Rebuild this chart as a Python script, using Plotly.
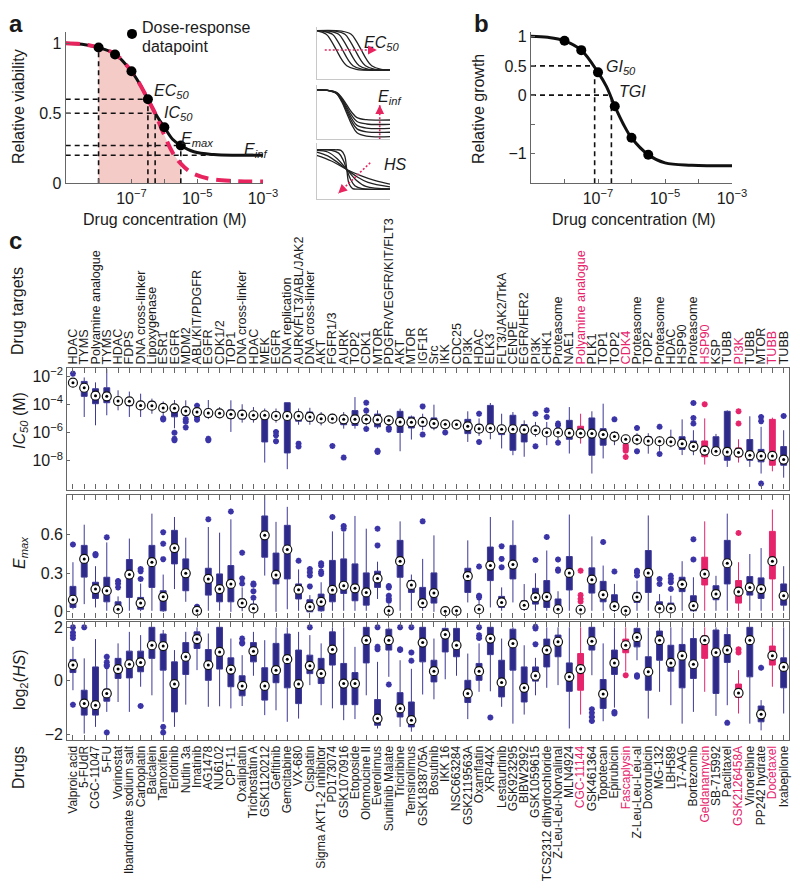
import plotly.graph_objects as go

# The page body has an 8px margin: the figure is sized so that it fills the 800x892 window exactly,
# and reference pixel positions are converted to paper fractions accordingly.
OFF = 8
W, H = 800 - 2 * OFF, 892 - 2 * OFF
def fx(p): return (p - OFF) / W
def fy(p): return 1 - (p - OFF) / H

FONT = "Liberation Sans, Arial, Helvetica, sans-serif"
TXT = "#1a1a1a"
AXC = "#666666"
BLUE = "#2e2a8a"
BLUE_LINE = "#3d3996"
PINK = "#e5246c"
RED = "#e8245f"
FILL = "rgba(240,175,170,0.65)"

# ---------------- Panel a (log10 concentration, relative viability) ----------------
a_points_logx = [-8.0, -7.5, -7.0, -6.5, -6.0, -5.5]
a_points_y = [0.97, 0.92, 0.80, 0.60, 0.40, 0.27]
a_curve_logx = [-9.0, -8.5, -8.0, -7.5, -7.0, -6.75, -6.5, -6.25, -6.0, -5.75, -5.5, -5.1, -4.5, -3.8, -3.0]
a_curve_y = [1.0, 0.993, 0.97, 0.924, 0.80, 0.71, 0.60, 0.49, 0.40, 0.315, 0.27, 0.225, 0.205, 0.20, 0.20]
a_ic_logx = [-9.0, -8.5, -8.0, -7.5, -7.0, -6.75, -6.5, -6.28, -6.05, -5.75, -5.5, -5.2, -4.7, -3.9, -3.0]
a_ic_y = [1.0, 0.993, 0.97, 0.924, 0.80, 0.71, 0.60, 0.50, 0.37, 0.22, 0.14, 0.08, 0.036, 0.017, 0.012]
a_ec50 = (-6.5, 0.60)
a_ic50 = (-6.28, 0.50)
a_emax = (-5.5, 0.27)
a_einf = 0.20
a_einf_end = -4.6
a_first = (-8.0, 0.97)
a_xmin, a_xmax = -9.0, -3.0

# ---------------- Insets (schematic curves, normalised units) ----------------
inset_ec50_x = [
    [0, 0.13, 0.20, 0.27, 0.34, 0.41, 0.54, 1],
    [0, 0.085, 0.215, 0.285, 0.355, 0.425, 0.495, 0.625, 1],
    [0, 0.17, 0.30, 0.37, 0.44, 0.51, 0.58, 0.71, 1],
    [0, 0.255, 0.385, 0.455, 0.525, 0.595, 0.665, 0.795, 1],
    [0, 0.34, 0.47, 0.54, 0.61, 0.68, 0.75, 0.88, 1],
]
inset_ec50_y = [
    [0.93, 0.86, 0.73, 0.555, 0.38, 0.26, 0.19, 0.18],
    [0.93, 0.92, 0.86, 0.73, 0.555, 0.38, 0.26, 0.19, 0.18],
    [0.93, 0.92, 0.86, 0.73, 0.555, 0.38, 0.26, 0.19, 0.18],
    [0.93, 0.92, 0.86, 0.73, 0.555, 0.38, 0.26, 0.19, 0.18],
    [0.93, 0.92, 0.86, 0.73, 0.555, 0.38, 0.26, 0.19, 0.18],
]
inset_einf_x = [0, 0.14, 0.27, 0.34, 0.41, 0.48, 0.55, 0.68, 1]
inset_einf_y = [
    [0.91, 0.904, 0.866, 0.771, 0.633, 0.494, 0.399, 0.361, 0.355],
    [0.91, 0.904, 0.859, 0.752, 0.593, 0.434, 0.327, 0.282, 0.276],
    [0.91, 0.903, 0.853, 0.733, 0.555, 0.378, 0.257, 0.207, 0.200],
    [0.91, 0.902, 0.848, 0.715, 0.520, 0.325, 0.192, 0.138, 0.130],
    [0.91, 0.901, 0.841, 0.695, 0.480, 0.265, 0.119, 0.059, 0.050],
]
inset_hs_x = [
    [0, 0.25, 0.33, 0.38, 0.41, 0.44, 0.49, 0.57, 1],
    [0, 0.20, 0.30, 0.36, 0.41, 0.46, 0.52, 0.62, 1],
    [0, 0.15, 0.28, 0.41, 0.54, 0.67, 1],
    [0, 0.15, 0.28, 0.41, 0.55, 0.70, 1],
    [0, 0.20, 0.41, 0.60, 0.80, 1],
]
inset_hs_y = [
    [0.88, 0.88, 0.87, 0.78, 0.53, 0.28, 0.19, 0.18, 0.18],
    [0.88, 0.87, 0.82, 0.70, 0.53, 0.36, 0.24, 0.19, 0.18],
    [0.87, 0.84, 0.72, 0.53, 0.34, 0.23, 0.185],
    [0.84, 0.77, 0.66, 0.53, 0.40, 0.30, 0.22],
    [0.78, 0.68, 0.53, 0.42, 0.33, 0.27],
]
inset1_arrow_x = [0.11, 0.82]; inset1_arrow_y = [0.56, 0.56]
inset2_arrow_x = [0.86, 0.86]; inset2_arrow_y = [0.0, 0.63]
inset3_arrow_x = [0.73, 0.295]; inset3_arrow_y = [0.65, 0.106]

# ---------------- Panel b (log10 concentration, relative growth) ----------------
b_points_logx = [-8.0, -7.5, -7.0, -6.5, -6.0, -5.5]
b_points_y = [0.93, 0.77, 0.39, -0.19, -0.73, -1.02]
b_curve_logx = [-9.0, -8.5, -8.0, -7.5, -7.0, -6.75, -6.5, -6.25, -6.0, -5.5, -5.0, -4.2, -3.0]
b_curve_y = [1.01, 0.99, 0.93, 0.77, 0.39, 0.15, -0.19, -0.49, -0.73, -1.02, -1.16, -1.20, -1.21]
b_gi50 = (-7.1, 0.5)
b_tgi = (-6.6, 0.0)
b_ymin, b_ymax = -1.51, 1.086

# ---------------- Panel c ----------------
drugs = ["Valproic acid", "5-FUdR", "CGC-11047", "5-FU", "Vorinostat", "Ibandronate sodium salt",
         "Carboplatin", "Baicalein", "Tamoxifen", "Erlotinib", "Nutlin 3a", "Imatinib", "AG1478",
         "NU6102", "CPT-11", "Oxaliplatin", "Trichostatin A", "GSK1120212", "Gefitinib", "Gemcitabine",
         "VX-680", "Cisplatin", "Sigma AKT1-2 inhibitor", "PD173074", "GSK1070916", "Etoposide",
         "Olomoucine II", "Everolimus", "Sunitinib Malate", "Triciribine", "Temsirolimus", "GSK1838705A",
         "Bosutinib", "IKK 16", "NSC663284", "GSK2119563A", "Oxamflatin", "XRP44X", "Lestaurtinib",
         "GSK923295", "BIBW2992", "GSK1059615", "TCS2312 dihydrochloride", "Z-Leu-Leu-Norvalinal",
         "MLN4924", "CGC-11144", "GSK461364", "Topotecan", "Epirubicin", "Fascaplysin",
         "Z-Leu-Leu-Leu-al", "Doxorubicin", "MG-132", "LBH589", "17-AAG", "Bortezomib", "Geldanamycin",
         "SB-715992", "Paclitaxel", "GSK2126458A", "Vinorelbine", "PP242 hydrate", "Docetaxel", "Ixabepilone"]
targets = ["HDAC", "TYMS", "Polyamine analogue", "TYMS", "HDAC", "FDPS", "DNA cross-linker", "Lipoxygenase",
           "ESR1", "EGFR", "MDM2", "ABL/KIT/PDGFR", "EGFR", "CDK1/2", "TOP1", "DNA cross-linker", "HDAC",
           "MEK", "EGFR", "DNA replication", "AURK/FLT3/ABL/JAK2", "DNA cross-linker", "AKT", "FGFR1/3",
           "AURK", "TOP2", "CDK1", "MTOR", "PDGFR/VEGFR/KIT/FLT3", "AKT", "MTOR", "IGF1R", "Src", "IKK",
           "CDC25", "PI3K", "HDAC", "ELK3", "FLT3/JAK2/TrkA", "CENPE", "EGFR/HER2", "PI3K", "CHK1",
           "Proteasome", "NAE1", "Polyamine analogue", "PLK1", "TOP1", "TOP2", "CDK4", "Proteasome", "TOP2",
           "Proteasome", "HDAC", "HSP90", "Proteasome", "HSP90", "KSP", "TUBB", "PI3K", "TUBB", "MTOR",
           "TUBB", "TUBB"]
highlighted = ["CGC-11144", "Fascaplysin", "Geldanamycin", "GSK2126458A", "Docetaxel"]

# IC50 stored as log10(M)
ic50_median = [-2.47,-2.83,-3.39,-3.44,-3.77,-3.79,-4.08,-4.10,-4.26,-4.29, -4.48,-4.55,-4.62,-4.64,-4.71,-4.74,-4.78,-4.78,-4.83,-4.83,
               -4.83,-4.90,-5.02,-5.02,-5.07,-5.07,-5.07,-5.09,-5.14,-5.25, -5.28,-5.25,-5.37,-5.42,-5.44,-5.56,-5.73,-5.70,-5.77,-5.77,
               -5.80,-5.84,-6.00,-6.00,-6.03,-6.06,-6.08,-6.15,-6.29,-6.48, -6.50,-6.60,-6.62,-6.65,-6.79,-7.00,-7.28,-7.33,-7.38,-7.42,
               -7.61,-7.66,-7.66,-7.92]
ic50_q1 = [-2.62,-3.44,-3.96,-3.89,-3.90,-4.10,-4.30,-4.30,-4.45,-4.89, -4.78,-4.65,-4.90,-4.85,-5.00,-5.05,-5.05,-6.67,-5.05,-7.45,
           -5.20,-5.20,-5.25,-5.25,-5.45,-5.50,-5.35,-5.60,-5.35,-6.00, -5.68,-5.55,-5.68,-5.55,-5.55,-6.08,-6.00,-5.96,-6.15,-7.26,
           -6.67,-6.10,-6.24,-6.20,-6.48,-6.31,-7.61,-6.90,-6.48,-6.60, -6.69,-6.80,-6.79,-6.79,-7.20,-7.25,-7.72,-7.50,-7.97,-7.72,
           -7.97,-8.08,-8.32,-8.32]
ic50_q3 = [-2.35,-2.38,-2.90,-2.83,-3.65,-3.55,-3.85,-3.80,-4.05,-4.10, -4.20,-4.42,-4.35,-4.45,-4.40,-4.45,-4.55,-4.55,-4.55,-3.89,
           -4.55,-4.55,-4.80,-4.80,-4.80,-4.45,-4.80,-4.70,-4.95,-4.50, -4.90,-4.97,-4.97,-5.30,-5.35,-5.07,-5.44,-4.08,-5.50,-4.78,
           -5.44,-5.56,-5.73,-5.73,-5.14,-5.56,-4.97,-5.73,-6.00,-6.35, -6.24,-6.30,-6.45,-6.48,-6.30,-6.60,-6.60,-6.30,-4.50,-7.10,
           -6.50,-7.20,-5.07,-7.00]
ic50_low = [-2.80,-4.90,-5.49,-4.78,-4.43,-4.90,-4.90,-4.67,-4.90,-5.70, -4.95,-4.80,-5.05,-4.95,-5.96,-5.30,-5.30,-8.13,-5.30,-8.60,
            -5.45,-5.45,-5.50,-5.35,-5.73,-5.73,-5.50,-5.73,-5.50,-7.33, -6.50,-5.84,-5.84,-5.60,-5.60,-6.67,-6.24,-6.48,-7.13,-7.61,
            -7.72,-6.30,-6.90,-6.55,-7.49,-6.79,-8.91,-7.84,-6.90,-6.80, -6.90,-7.50,-7.30,-7.05,-7.60,-7.61,-8.27,-7.60,-8.44,-8.13,
            -8.44,-8.91,-8.75,-9.20]
ic50_high = [-2.20,-2.10,-2.45,-1.50,-3.01,-3.10,-3.25,-3.60,-3.80,-3.70, -3.72,-4.30,-3.70,-4.20,-3.72,-4.00,-4.20,-4.30,-4.30,-3.89,
             -4.30,-4.25,-4.55,-4.67,-4.55,-3.49,-4.55,-4.43,-4.90,-4.31, -4.80,-4.67,-4.03,-5.20,-5.25,-4.50,-5.00,-3.91,-4.67,-4.55,
             -5.14,-5.25,-5.25,-5.60,-4.20,-4.67,-4.50,-3.96,-5.90,-6.20, -6.05,-6.05,-6.25,-5.80,-5.07,-5.84,-5.00,-6.10,-4.43,-6.48,
             -4.85,-5.60,-4.95,-5.84]
ic50_outliers = [[-1.83],[],[],[],[],[],[],[],[-5.00,-5.08],[-6.02,-6.45,-6.55],
                 [-5.05,-5.24,-5.64],[-4.10,-4.95,-5.10],[-6.45,-6.55],[],[],[],[],[],[-5.96,-6.20,-6.62],[],
                 [-6.79,-7.00],[],[],[-6.95],[-7.78],[],[-3.89,-4.45,-5.75],[-7.30,-7.38],[-5.68,-5.80],[],
                 [],[-4.15,-6.15],[],[-6.00],[],[],[-4.67,-6.67],[],[],[],
                 [],[-4.67,-6.98],[-4.43,-4.90],[-5.37,-5.50,-6.72],[],[],[],[],[-5.07],[-6.90,-7.00,-7.10,-7.20,-7.30,-7.73],
                 [-5.68,-7.33],[],[-5.60,-7.52],[],[],[-3.91,-4.97,-5.37],[-4.00],[],[],[-4.50,-5.37],
                 [],[-4.90,-5.20,-9.62],[],[-4.83]]
ic50_tickvals = [-2, -4, -6, -8]
ic50_ticktext = ["10<sup>−2</sup>", "10<sup>−4</sup>", "10<sup>−6</sup>", "10<sup>−8</sup>"]

emax_median = [0.094,0.412,0.177,0.164,0.020,0.290,0.068,0.386,0.117,0.496, 0.300,0.008,0.256,0.177,0.217,0.068,0.026,0.595,0.287,0.485,
               0.172,0.040,0.078,0.170,0.203,0.183,0.151,0.260,0.008,0.394, 0.209,0.068,0.146,0.005,0.008,0.277,0.020,0.360,0.073,0.368,
               0.052,0.112,0.117,0.020,0.303,0.016,0.250,0.133,0.044,0.008, 0.115,0.303,0.026,0.026,0.214,0.047,0.295,0.138,0.378,0.157,
               0.190,0.177,0.394,0.125]
emax_q1 = [0.034,0.270,0.104,0.078,0.000,0.112,0.020,0.190,0.008,0.373, 0.164,0.000,0.130,0.078,0.078,0.034,0.000,0.425,0.217,0.256,
           0.100,0.000,0.008,0.078,0.143,0.086,0.052,0.190,0.000,0.269, 0.151,0.034,0.068,0.000,0.000,0.151,0.000,0.243,0.034,0.256,
           0.020,0.060,0.034,0.000,0.170,0.000,0.146,0.078,0.016,0.000, 0.073,0.151,0.000,0.000,0.157,0.008,0.209,0.094,0.217,0.068,
           0.130,0.104,0.256,0.052]
emax_q3 = [0.198,0.517,0.230,0.269,0.078,0.407,0.112,0.517,0.164,0.634, 0.412,0.020,0.339,0.295,0.360,0.100,0.060,0.746,0.457,0.673,
           0.217,0.094,0.138,0.400,0.412,0.373,0.303,0.316,0.030,0.556, 0.243,0.190,0.303,0.026,0.026,0.339,0.040,0.504,0.120,0.517,
           0.086,0.183,0.243,0.100,0.430,0.026,0.342,0.237,0.133,0.026, 0.151,0.477,0.078,0.068,0.269,0.125,0.425,0.203,0.556,0.243,
           0.274,0.264,0.626,0.217]
emax_low = [0.020,0.060,0.034,0.008,0.000,0.008,0.005,0.008,0.000,0.177, 0.078,0.000,0.008,0.008,0.000,0.005,0.000,0.282,0.000,0.020,
            0.008,0.000,0.000,0.008,0.008,0.008,0.008,0.100,0.000,0.008, 0.008,0.008,0.000,0.000,0.000,0.073,0.000,0.034,0.008,0.073,
            0.008,0.008,0.008,0.000,0.008,0.000,0.008,0.008,0.000,0.000, 0.008,0.008,0.000,0.000,0.008,0.000,0.008,0.008,0.008,0.008,
            0.008,0.008,0.008,0.008]
emax_high = [0.386,0.678,0.355,0.540,0.120,0.570,0.220,0.764,0.290,0.738, 0.577,0.030,0.660,0.616,0.720,0.190,0.090,0.920,0.700,0.817,
             0.330,0.130,0.230,0.626,0.620,0.746,0.647,0.390,0.060,0.704, 0.290,0.412,0.595,0.034,0.034,0.556,0.100,0.738,0.190,0.712,
             0.216,0.300,0.477,0.160,0.757,0.034,0.587,0.360,0.217,0.034, 0.243,0.750,0.138,0.125,0.394,0.269,0.704,0.280,0.764,0.386,
             0.450,0.496,0.796,0.355]
emax_outliers = [[0.524],[],[0.44,0.45],[0.58],[0.19,0.22,0.24],[],[0.256,0.316,0.334],[],[0.41,0.53,0.62],[],
                 [],[0.035,0.04],[0.72],[],[0.78],[0.22,0.26,0.46],[0.11,0.16,0.21,0.22],[],[],[],
                 [0.397],[0.198,0.282,0.308,0.334],[0.295,0.313,0.36,0.378],[0.738],[0.647,0.668],[],[],[0.517,0.647],[0.086,0.10,0.125,0.19,0.20],[],
                 [],[0.704],[],[],[],[],[0.112,0.125,0.352],[],[0.347,0.412,0.511],[],
                 [],[0.404],[0.582],[0.32,0.329,0.407],[],[0.08,0.10,0.13,0.32],[],[0.543],[0.313],[],
                 [0.282,0.308,0.32],[],[0.217,0.256],[0.177,0.23,0.256,0.28],[],[0.407,0.564],[],[],[],[0.613],
                 [],[],[],[]]
emax_tickvals = [0, 0.3, 0.6]
emax_ticktext = ["0", "0.3", "0.6"]

hs_median = [0.59,-0.85,-0.91,-0.47,0.44,0.62,0.69,1.33,1.30,-0.12, 0.90,1.56,0.59,1.08,0.42,-0.19,1.11,-0.19,0.40,0.81,
             -0.12,0.56,0.27,1.17,-0.10,-0.10,1.52,-1.41,1.52,-1.03, -1.47,1.43,0.36,1.73,1.33,-0.47,0.36,1.58,-0.06,1.40,
             -0.26,0.19,1.15,1.46,0.15,0.44,1.48,-0.49,0.67,1.33, 1.63,0.34,1.52,0.67,0.94,0.62,1.52,1.06,1.15,-0.45,
             1.52,-1.25,0.94,0.52]
hs_q1 = [0.31,-1.28,-1.28,-0.76,0.09,0.11,0.34,0.84,0.40,-1.16, 0.24,1.21,0.02,0.44,-0.22,-0.56,0.71,-0.72,-0.07,-0.26,
         -0.85,0.27,-0.10,0.59,-0.89,-0.89,0.67,-1.66,1.15,-1.35, -1.72,0.71,-0.04,1.08,0.90,-0.81,0.02,0.98,-0.60,0.40,
         -0.79,-0.01,0.52,0.90,-0.39,-0.35,1.15,-1.03,0.24,1.05, 1.27,-0.35,0.77,0.36,-0.26,0.09,0.84,-0.47,0.69,-0.62,
         0.15,-1.53,0.59,-0.26]
hs_q3 = [0.80,-0.35,0.52,-0.31,0.84,1.11,1.11,2.00,1.75,0.71, 1.43,1.83,1.17,2.00,0.86,0.19,1.43,0.49,1.40,1.75,
         1.15,0.96,0.84,1.83,0.65,0.31,2.00,-0.70,1.93,-0.44, -0.79,2.00,0.77,1.96,1.96,0.02,0.65,2.00,0.77,1.93,
         0.52,0.52,1.56,1.71,0.67,1.02,2.00,0.05,1.15,1.56, 1.96,0.90,1.86,1.33,1.36,1.58,1.68,1.90,1.73,-0.12,
         2.00,-0.94,1.30,0.86]
hs_low = [-0.35,-1.97,-1.72,-1.16,-0.79,-1.16,-0.22,-0.54,-1.53,-1.72, -0.89,0.40,-0.97,-0.95,-1.03,-0.94,0.19,-1.28,-1.10,-1.53,
          -1.41,-0.16,-0.91,-1.03,-1.47,-1.43,-0.54,-1.78,0.15,-1.72, -1.90,-0.51,-0.69,0.06,0.19,-1.43,-0.41,-0.39,-0.97,-1.60,
          -1.26,-0.54,-0.26,-0.16,-1.78,-1.26,0.21,-1.51,-1.00,0.35, 0.77,-1.41,-0.41,-0.91,-1.60,-1.16,-0.41,-1.31,-0.91,-1.22,
          -1.60,-1.85,-0.22,-1.22]
hs_high = [1.27,0.84,1.56,0.46,1.40,1.83,1.71,2.00,1.90,1.15, 1.83,2.00,1.77,2.00,1.58,0.96,1.83,1.52,2.00,2.00,
           1.83,1.71,1.40,2.00,2.00,1.27,2.00,0.71,2.00,0.77, 0.45,2.00,1.58,2.00,2.00,1.02,1.40,2.00,1.58,2.00,
           1.33,0.86,2.00,2.00,2.00,2.00,2.00,1.40,2.00,2.00, 2.00,2.00,2.00,2.00,2.00,2.00,2.00,2.00,2.00,0.40,
           2.00,-0.72,2.00,2.00]
hs_outliers = [[2.0,1.8,1.7,1.6,-0.89],[2.0],[],[0.9,0.7,0.6,0.55,-1.93],[],[],[-0.94],[],[-1.72,-1.93],[],
               [],[],[],[],[],[1.40,1.43,1.58],[],[],[],[],
               [],[2.0],[],[],[],[],[],[1.18,1.27,2.0],[-0.14],[1.15,1.18,2.0],
               [0.75,1.06,2.0],[],[],[],[],[],[1.6,1.7,2.0],[-1.37],[],[],
               [],[1.37,1.96,2.02],[],[],[],[],[-1.06,-1.2,-1.35,-1.5],[],[-1.16,-1.22],[0.21],
               [0.15,0.21],[],[],[],[],[],[],[],[-1.57],[1.06,1.18],
               [],[0.49],[],[]]
hs_tickvals = [-2, 0, 2]
hs_ticktext = ["−2", "0", "2"]

N = len(drugs)
for arr in [targets, ic50_median, ic50_q1, ic50_q3, ic50_low, ic50_high, ic50_outliers,
            emax_median, emax_q1, emax_q3, emax_low, emax_high, emax_outliers,
            hs_median, hs_q1, hs_q3, hs_low, hs_high, hs_outliers]:
    assert len(arr) == N, len(arr)

fig = go.Figure()

# ---------- Panel a ----------
fill_pts = [(x, y) for x, y in zip(a_ic_logx, a_ic_y) if a_first[0] <= x <= a_emax[0]]
fig.add_trace(go.Scatter(x=[p[0] for p in fill_pts], y=[p[1] for p in fill_pts], mode="lines",
                         line=dict(width=0, shape="spline"), fill="tozeroy", fillcolor=FILL,
                         xaxis="x", yaxis="y", showlegend=False, hoverinfo="skip"))
dx, dy = [], []
for (xx, yy) in [a_ec50, a_ic50, a_emax]:
    dx += [a_xmin, xx, None, xx, xx, None]
    dy += [yy, yy, None, 0, yy, None]
dx += [a_xmin, a_einf_end, None, a_first[0], a_first[0]]
dy += [a_einf, a_einf, None, 0, a_first[1]]
fig.add_trace(go.Scatter(x=dx, y=dy, mode="lines", line=dict(color="#111", width=1.6, dash="5px,4px"),
                         xaxis="x", yaxis="y", showlegend=False, hoverinfo="skip"))
fig.add_trace(go.Scatter(x=a_curve_logx, y=a_curve_y, mode="lines", line=dict(color="#111", width=3, shape="spline"),
                         xaxis="x", yaxis="y", showlegend=False, hoverinfo="skip"))
fig.add_trace(go.Scatter(x=a_ic_logx, y=a_ic_y, mode="lines",
                         line=dict(color=RED, width=4, dash="14px,8px", shape="spline"),
                         xaxis="x", yaxis="y", showlegend=False, hoverinfo="skip"))
fig.add_trace(go.Scatter(x=a_points_logx, y=a_points_y, mode="markers", marker=dict(color="#000", size=10),
                         xaxis="x", yaxis="y", name=" ", showlegend=True, hoverinfo="skip"))

# ---------- Insets ----------
for cx, cy in zip(inset_ec50_x, inset_ec50_y):
    fig.add_trace(go.Scatter(x=cx, y=cy, mode="lines", line=dict(color="#222", width=1.3, shape="spline"),
                             xaxis="x2", yaxis="y2", showlegend=False, hoverinfo="skip"))
for cy in inset_einf_y:
    fig.add_trace(go.Scatter(x=inset_einf_x, y=cy, mode="lines", line=dict(color="#222", width=1.3, shape="spline"),
                             xaxis="x3", yaxis="y3", showlegend=False, hoverinfo="skip"))
for cx, cy in zip(inset_hs_x, inset_hs_y):
    fig.add_trace(go.Scatter(x=cx, y=cy, mode="lines", line=dict(color="#222", width=1.3, shape="spline"),
                             xaxis="x4", yaxis="y4", showlegend=False, hoverinfo="skip"))
arrow_anns = []
for ax_id, axx, ayy in [("2", inset1_arrow_x, inset1_arrow_y), ("3", inset2_arrow_x, inset2_arrow_y),
                        ("4", inset3_arrow_x, inset3_arrow_y)]:
    fig.add_trace(go.Scatter(x=axx, y=ayy, mode="lines", line=dict(color=RED, width=1.6, dash="2px,2px"),
                             xaxis="x" + ax_id, yaxis="y" + ax_id, showlegend=False, hoverinfo="skip"))
    arrow_anns.append(dict(x=axx[1], y=ayy[1], ax=axx[1] - 0.12 * (axx[1] - axx[0]),
                           ay=ayy[1] - 0.12 * (ayy[1] - ayy[0]),
                           xref="x" + ax_id, yref="y" + ax_id, axref="x" + ax_id, ayref="y" + ax_id,
                           text="", showarrow=True, arrowhead=2, arrowsize=1.1, arrowwidth=1.6,
                           arrowcolor=RED, standoff=0))

# ---------- Panel b ----------
bdx = [a_xmin, b_gi50[0], None, a_xmin, b_tgi[0], None, b_gi50[0], b_gi50[0], None, b_tgi[0], b_tgi[0]]
bdy = [b_gi50[1], b_gi50[1], None, b_tgi[1], b_tgi[1], None, b_ymin, b_gi50[1], None, b_ymin, b_tgi[1]]
fig.add_trace(go.Scatter(x=bdx, y=bdy, mode="lines", line=dict(color="#111", width=1.6, dash="5px,4px"),
                         xaxis="x5", yaxis="y5", showlegend=False, hoverinfo="skip"))
fig.add_trace(go.Scatter(x=b_curve_logx, y=b_curve_y, mode="lines", line=dict(color="#111", width=3, shape="spline"),
                         xaxis="x5", yaxis="y5", showlegend=False, hoverinfo="skip"))
fig.add_trace(go.Scatter(x=b_points_logx, y=b_points_y, mode="markers", marker=dict(color="#000", size=10),
                         xaxis="x5", yaxis="y5", showlegend=False, hoverinfo="skip"))

# ---------- Panel c ----------
hl_idx = [i for i, d in enumerate(drugs) if d in highlighted]
nm_idx = [i for i in range(N) if i not in hl_idx]

def add_box_panel(xa, ya, med, q1, q3, lo, hi, outs):
    for idx, fillc, linec in [(nm_idx, BLUE, BLUE_LINE), (hl_idx, PINK, PINK)]:
        fig.add_trace(go.Box(x=idx, q1=[q1[i] for i in idx], median=[med[i] for i in idx],
                             q3=[q3[i] for i in idx], lowerfence=[lo[i] for i in idx],
                             upperfence=[hi[i] for i in idx], boxpoints=False, width=0.52,
                             whiskerwidth=0, fillcolor=fillc, line=dict(color=linec, width=1),
                             xaxis=xa, yaxis=ya, showlegend=False, hoverinfo="skip"))
    for idx, col in [(nm_idx, "#3a34a6"), (hl_idx, PINK)]:
        ox, oy = [], []
        for i in idx:
            ox += [i] * len(outs[i]); oy += outs[i]
        fig.add_trace(go.Scatter(x=ox, y=oy, mode="markers",
                                 marker=dict(symbol="asterisk-open", size=5, color=col,
                                             line=dict(color=col, width=1.8)),
                                 xaxis=xa, yaxis=ya, showlegend=False, hoverinfo="skip", cliponaxis=False))
    fig.add_trace(go.Scatter(x=list(range(N)), y=med, mode="markers",
                             marker=dict(symbol="circle", size=9, color="white", line=dict(color="#111", width=1.2)),
                             xaxis=xa, yaxis=ya, showlegend=False, hoverinfo="skip"))
    fig.add_trace(go.Scatter(x=list(range(N)), y=med, mode="markers",
                             marker=dict(symbol="circle", size=3, color="#000"),
                             xaxis=xa, yaxis=ya, showlegend=False, hoverinfo="skip"))

add_box_panel("x6", "y6", ic50_median, ic50_q1, ic50_q3, ic50_low, ic50_high, ic50_outliers)
add_box_panel("x7", "y7", emax_median, emax_q1, emax_q3, emax_low, emax_high, emax_outliers)
add_box_panel("x8", "y8", hs_median, hs_q1, hs_q3, hs_low, hs_high, hs_outliers)

def colored(label, i):
    return f"<span style='color:{PINK}'>{label}</span>" if i in hl_idx else label

target_text = [colored(t, i) for i, t in enumerate(targets)]
drug_text = [colored(d, i) for i, d in enumerate(drugs)]

# ---------- Layout ----------
base = dict(showgrid=False, zeroline=False, showline=True, linecolor=AXC, linewidth=1.2,
            ticks="inside", tickcolor=AXC, ticklen=4, tickwidth=1, automargin=False,
            tickfont=dict(size=16, color=TXT, family=FONT), fixedrange=True)
inset = dict(showgrid=False, zeroline=False, showline=True, linecolor="#c8c8c8", linewidth=1,
             ticks="", showticklabels=False, range=[0, 1], fixedrange=True, automargin=False)

log_ticks = [-8, -7, -6, -5, -4, -3]
log_text = ["", "10<sup>−7</sup>", "", "10<sup>−5</sup>", "", "10<sup>−3</sup>"]

cx0, cx1 = fx(67.3), fx(789.3)
cpanel_x = dict(base, domain=[cx0, cx1], range=[-0.5, N - 0.5], tickvals=list(range(N)),
                mirror="allticks", ticklen=5, tickfont=dict(size=12, color=TXT, family=FONT), tickangle=-90)

layout = dict(
    width=W, height=H, autosize=False, margin=dict(l=0, r=0, t=0, b=0, pad=0, autoexpand=False),
    paper_bgcolor="white", plot_bgcolor="white", font=dict(family=FONT, color=TXT, size=16),
    boxmode="overlay",
    showlegend=True,
    legend=dict(x=fx(112), y=fy(17), xanchor="left", yanchor="top", bgcolor="rgba(0,0,0,0)",
                font=dict(size=16, family=FONT, color=TXT), valign="top", itemwidth=30,
                tracegroupgap=0),
    xaxis=dict(base, domain=[fx(65.7), fx(263)], range=[a_xmin, a_xmax], anchor="y",
               tickvals=log_ticks, ticktext=log_text),
    yaxis=dict(base, domain=[fy(183.3), fy(31.7)], range=[0, 1.083], anchor="x",
               tickvals=[0, 0.5, 1], ticktext=["0", "0.5", "1"]),
    xaxis2=dict(inset, domain=[fx(316.7), fx(390)], anchor="y2"),
    yaxis2=dict(inset, domain=[fy(79.3), fy(27)], anchor="x2"),
    xaxis3=dict(inset, domain=[fx(316.7), fx(390)], anchor="y3"),
    yaxis3=dict(inset, domain=[fy(139.3), fy(85)], anchor="x3"),
    xaxis4=dict(inset, domain=[fx(316.7), fx(390)], anchor="y4"),
    yaxis4=dict(inset, domain=[fy(199.3), fy(143)], anchor="x4"),
    xaxis5=dict(base, domain=[fx(531), fx(732)], range=[a_xmin, a_xmax], anchor="y5",
                tickvals=log_ticks, ticktext=log_text),
    yaxis5=dict(base, domain=[fy(183.3), fy(31.7)], range=[b_ymin, b_ymax], anchor="x5",
                tickvals=[-1, -0.5, 0, 0.5, 1], ticktext=["−1", "", "0", "0.5", "1"]),
    xaxis6=dict(cpanel_x, anchor="y6", side="top", ticktext=target_text,
                tickfont=dict(size=12.6, color=TXT, family=FONT)),
    yaxis6=dict(base, domain=[fy(489.5), fy(368)], range=[-10.04, -1.43], anchor="x6", mirror=True,
                tickvals=ic50_tickvals, ticktext=ic50_ticktext, ticklen=3),
    xaxis7=dict(cpanel_x, anchor="y7", showticklabels=False),
    yaxis7=dict(base, domain=[fy(618.5), fy(494.5)], range=[-0.052, 0.913], anchor="x7", mirror=True,
                tickvals=emax_tickvals, ticktext=emax_ticktext, ticklen=3),
    xaxis8=dict(cpanel_x, anchor="y8", side="bottom", ticktext=drug_text),
    yaxis8=dict(base, domain=[fy(740), fy(621.7)], range=[-2.21, 2.21], anchor="x8", mirror=True,
                tickvals=hs_tickvals, ticktext=hs_ticktext, ticklen=3),
)

def ann(text, px, py, size=16, xanchor="center", yanchor="middle", angle=0):
    return dict(text=text, x=fx(px), y=fy(py), xref="paper", yref="paper", showarrow=False,
                xanchor=xanchor, yanchor=yanchor, textangle=angle,
                font=dict(size=size, family=FONT, color=TXT))

annotations = [
    ann("<b>a</b>", 16, OFF, size=24, yanchor="top"), ann("<b>b</b>", 481, OFF, size=24, yanchor="top"),
    ann("<b>c</b>", 16, 240, size=24),
    ann("Dose-response", 140, 27, xanchor="left"),
    ann("datapoint", 140, 47, xanchor="left"),
    ann("Relative viability", 18, 107, angle=-90),
    ann("Drug concentration (M)", 165, 220),
    ann("Relative growth", 479, 109, angle=-90),
    ann("Drug concentration (M)", 634, 220),
    ann("<i>EC</i><sub><i>50</i></sub>", 152, 92, xanchor="left"),
    ann("<i>IC</i><sub><i>50</i></sub>", 162, 114, xanchor="left"),
    ann("<i>E</i><sub><i>max</i></sub>", 179, 139, xanchor="left"),
    ann("<i>E</i><sub><i>inf</i></sub>", 242, 150, xanchor="left"),
    ann("<i>EC</i><sub><i>50</i></sub>", 362, 43, xanchor="left"),
    ann("<i>E</i><sub><i>inf</i></sub>", 376, 98, xanchor="left"),
    ann("<i>HS</i>", 382, 164, xanchor="left"),
    ann("<i>GI</i><sub><i>50</i></sub>", 604, 67, xanchor="left"),
    ann("<i>TGI</i>", 617, 92, xanchor="left"),
    ann("Drug targets", 18, 311, angle=-90),
    ann("<i>IC</i><sub><i>50</i></sub> (M)", 20, 421, angle=-90),
    ann("<i>E</i><sub><i>max</i></sub>", 20, 553, angle=-90),
    ann("log<sub>2</sub>(<i>HS</i>)", 20, 680, angle=-90),
    ann("Drugs", 18, 768, angle=-90),
] + arrow_anns

layout["annotations"] = annotations
fig.update_layout(**layout)
fig.write_html("out.html")
